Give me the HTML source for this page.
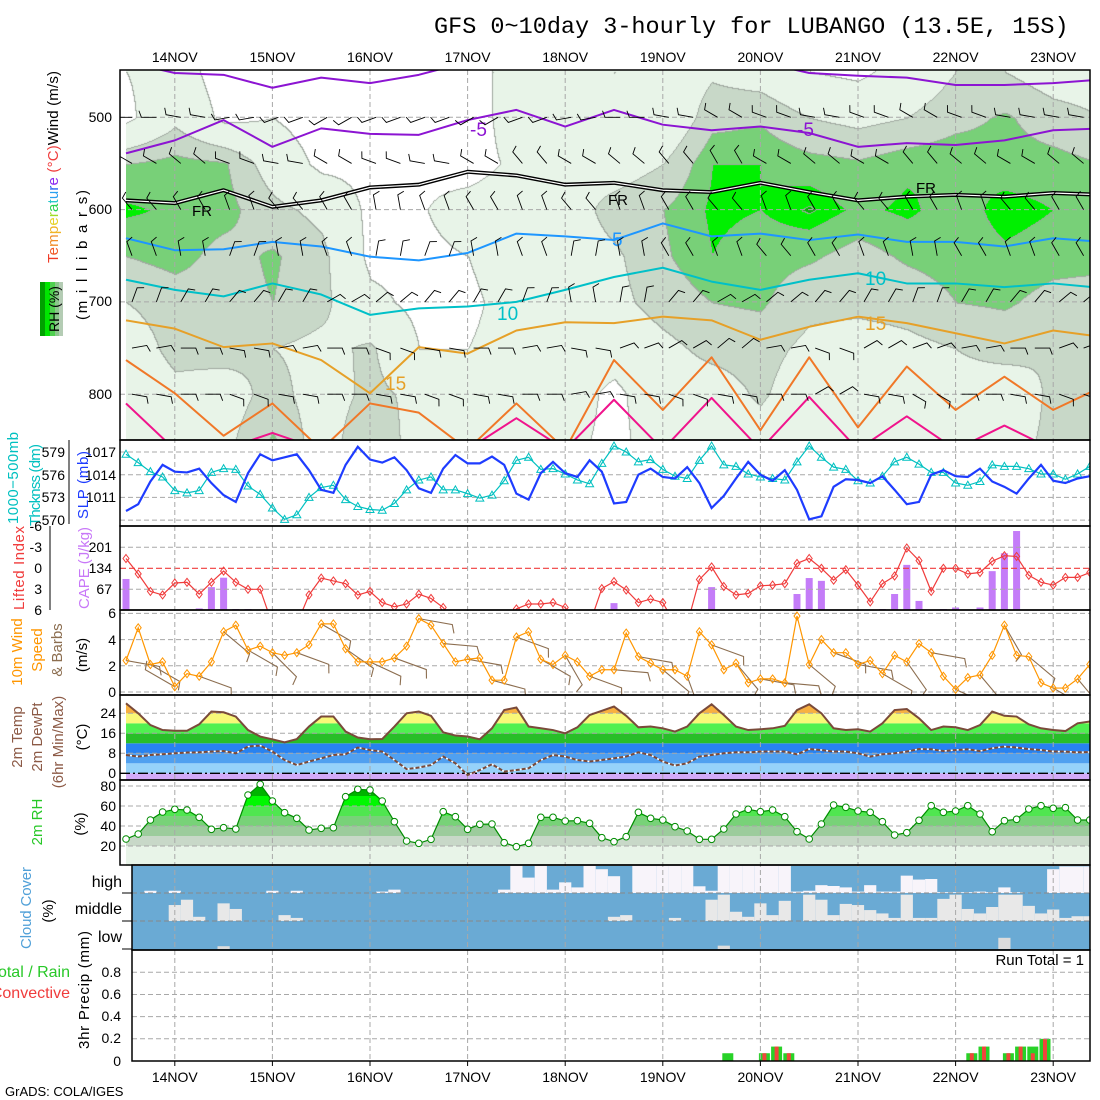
<!DOCTYPE html>
<html><head><meta charset="utf-8">
<title>GFS meteogram LUBANGO</title>
<style>
html,body{margin:0;padding:0;background:#fff}
body{width:1100px;height:1100px;overflow:hidden;position:relative}
#rhcanvas{position:absolute;left:126px;top:70px}
#chart{position:absolute;left:0;top:0}
text{font-family:"Liberation Sans",sans-serif;font-size:14px;fill:#000}
.mono{font-family:"Liberation Mono",monospace}
.grid{stroke:#a8a8a8;stroke-width:1;stroke-dasharray:5,3;fill:none}
.frame{fill:none;stroke:#000;stroke-width:1.5}
.tk{stroke:#000;stroke-width:1}
</style></head>
<body>
<canvas id="rhcanvas" width="964" height="370"></canvas>
<svg id="chart" width="1100" height="1100" xmlns="http://www.w3.org/2000/svg">
<defs>
<clipPath id="cTop"><rect x="120" y="70" width="970" height="370"/></clipPath>
<clipPath id="cSlp"><rect x="120" y="440" width="970" height="86"/></clipPath>
<clipPath id="cCape"><rect x="120" y="526" width="970" height="84"/></clipPath>
<clipPath id="cWind"><rect x="120" y="610" width="970" height="85"/></clipPath>
<clipPath id="cTemp"><rect x="120" y="695" width="970" height="85"/></clipPath>
<clipPath id="cRh"><rect x="120" y="780" width="970" height="85"/></clipPath>
<clipPath id="cCloud"><rect x="132" y="865" width="958" height="85"/></clipPath>
<clipPath id="cPrec"><rect x="132" y="950" width="958" height="111"/></clipPath>
<clipPath id="cTempArea"><polygon id="tempAreaPoly" points=""/></clipPath>
<clipPath id="cRhArea"><polygon id="rhAreaPoly" points=""/></clipPath>
</defs>

<text class="mono" x="434" y="33" style="font-size:23.5px">GFS 0~10day 3-hourly for LUBANGO (13.5E, 15S)</text>

<rect x="132" y="865" width="958" height="85" fill="#6aaad4"/>

<g id="gFills"></g>

<g id="gGrid">
<line class="grid" x1="120" x2="1090" y1="117.3" y2="117.3"/>
<line class="grid" x1="120" x2="1090" y1="209.6" y2="209.6"/>
<line class="grid" x1="120" x2="1090" y1="301.9" y2="301.9"/>
<line class="grid" x1="120" x2="1090" y1="394.2" y2="394.2"/>
<line class="grid" x1="120" x2="1090" y1="452" y2="452"/>
<line class="grid" x1="120" x2="1090" y1="474.7" y2="474.7"/>
<line class="grid" x1="120" x2="1090" y1="497.4" y2="497.4"/>
<line class="grid" x1="120" x2="1090" y1="520.1" y2="520.1"/>
<line class="grid" x1="120" x2="1090" y1="547.3" y2="547.3"/>
<line class="grid" x1="120" x2="1090" y1="589.3" y2="589.3"/>
<line x1="120" x2="1090" y1="568.3" y2="568.3" stroke="#f03c3c" stroke-width="1.2" stroke-dasharray="6,3"/>
<line class="grid" x1="120" x2="1090" y1="613.4" y2="613.4"/>
<line class="grid" x1="120" x2="1090" y1="639.6" y2="639.6"/>
<line class="grid" x1="120" x2="1090" y1="665.8" y2="665.8"/>
<line class="grid" x1="120" x2="1090" y1="692" y2="692"/>
<line class="grid" x1="120" x2="1090" y1="713.3" y2="713.3"/>
<line class="grid" x1="120" x2="1090" y1="733.3" y2="733.3"/>
<line class="grid" x1="120" x2="1090" y1="753.3" y2="753.3"/>
<line x1="120" x2="1090" y1="773.3" y2="773.3" stroke="#000" stroke-width="1.3" stroke-dasharray="10,3,2,3"/>
<line class="grid" x1="120" x2="1090" y1="786" y2="786"/>
<line class="grid" x1="120" x2="1090" y1="806" y2="806"/>
<line class="grid" x1="120" x2="1090" y1="826" y2="826"/>
<line class="grid" x1="120" x2="1090" y1="846" y2="846"/>
<line class="grid" x1="132" x2="1090" y1="893" y2="893" style="stroke:#888"/>
<line class="grid" x1="132" x2="1090" y1="921" y2="921" style="stroke:#888"/>
<line class="grid" x1="132" x2="1090" y1="972.3" y2="972.3"/>
<line class="grid" x1="132" x2="1090" y1="994.5" y2="994.5"/>
<line class="grid" x1="132" x2="1090" y1="1016.6" y2="1016.6"/>
<line class="grid" x1="132" x2="1090" y1="1038.8" y2="1038.8"/>
</g>

<g id="gLines"></g>

<g id="gFrames">
<rect class="frame" x="120" y="70" width="970" height="370"/>
<rect class="frame" x="120" y="440" width="970" height="86"/>
<rect class="frame" x="120" y="526" width="970" height="84"/>
<rect class="frame" x="120" y="610" width="970" height="85"/>
<rect class="frame" x="120" y="695" width="970" height="85"/>
<rect class="frame" x="120" y="780" width="970" height="85"/>
<rect class="frame" x="132" y="865" width="958" height="85"/>
<rect class="frame" x="132" y="950" width="958" height="111"/>
<line class="tk" x1="69" x2="69" y1="440" y2="524"/>
<line class="tk" x1="50" x2="50" y1="526" y2="610"/>
</g>

<g id="gText">
<text x="112" y="122" text-anchor="end">500</text>
<text x="112" y="214" text-anchor="end">600</text>
<text x="112" y="306" text-anchor="end">700</text>
<text x="112" y="399" text-anchor="end">800</text>
<text transform="translate(87,255) rotate(-90)" text-anchor="middle" textLength="130" style="font-size:15px">(m i l l i b a r s)</text>
<text transform="translate(58,263) rotate(-90)" textLength="192" style="font-size:15px"><tspan fill="#f03c28">T</tspan><tspan fill="#f05a28">e</tspan><tspan fill="#f08c28">m</tspan><tspan fill="#f0b428">p</tspan><tspan fill="#e6d228">e</tspan><tspan fill="#a0dc28">r</tspan><tspan fill="#28d250">a</tspan><tspan fill="#28c8c8">t</tspan><tspan fill="#28a0f0">u</tspan><tspan fill="#2864f0">r</tspan><tspan fill="#8c28f0">e</tspan><tspan fill="#f03c3c"> (°C)</tspan>Wind (m/s)</text>
<g>
<rect x="40" y="282" width="5" height="54" fill="#00a000"/>
<rect x="45" y="282" width="5" height="54" fill="#00e600"/>
<rect x="50" y="282" width="5" height="54" fill="#50d050"/>
<rect x="55" y="282" width="4" height="54" fill="#8cc88c"/>
<rect x="59" y="282" width="4" height="54" fill="#b4ccb4"/>
<text transform="translate(59,309) rotate(-90)" text-anchor="middle">RH (%)</text>
</g>

<text x="65" y="457" text-anchor="end">579</text>
<text x="65" y="480" text-anchor="end">576</text>
<text x="65" y="502" text-anchor="end">573</text>
<text x="65" y="525" text-anchor="end">570</text>
<text x="116" y="457" text-anchor="end">1017</text>
<text x="116" y="480" text-anchor="end">1014</text>
<text x="116" y="502" text-anchor="end">1011</text>
<text transform="translate(18,478) rotate(-90)" text-anchor="middle" style="fill:#00c0c0;font-size:15px" textLength="92">1000−500mb</text>
<text transform="translate(40,485) rotate(-90)" text-anchor="middle" style="fill:#00c0c0;font-size:15px" textLength="82">Thcknss (dm)</text>
<text transform="translate(88,485) rotate(-90)" text-anchor="middle" style="fill:#1e3cff;font-size:15px" textLength="68">SLP (mb)</text>

<text x="42" y="531" text-anchor="end">-6</text>
<text x="42" y="552" text-anchor="end">-3</text>
<text x="42" y="573" text-anchor="end">0</text>
<text x="42" y="594" text-anchor="end">3</text>
<text x="42" y="615" text-anchor="end">6</text>
<text x="112" y="552" text-anchor="end">201</text>
<text x="112" y="573" text-anchor="end">134</text>
<text x="112" y="594" text-anchor="end">67</text>
<text transform="translate(24,568) rotate(-90)" text-anchor="middle" style="fill:#f03c3c;font-size:15px" textLength="84">Lifted Index</text>
<text transform="translate(89,568) rotate(-90)" text-anchor="middle" style="fill:#c878f8;font-size:15px" textLength="82">CAPE (J/kg)</text>

<text x="116" y="618" text-anchor="end">6</text>
<text x="116" y="645" text-anchor="end">4</text>
<text x="116" y="671" text-anchor="end">2</text>
<text x="116" y="697" text-anchor="end">0</text>
<text transform="translate(22,652) rotate(-90)" text-anchor="middle" style="fill:#ff9600;font-size:15px">10m Wind</text>
<text transform="translate(42,650) rotate(-90)" text-anchor="middle" style="fill:#ff9600;font-size:15px">Speed</text>
<text transform="translate(62,650) rotate(-90)" text-anchor="middle" style="fill:#8c6e50;font-size:15px">&amp; Barbs</text>
<text transform="translate(87,655) rotate(-90)" text-anchor="middle" style="font-size:15px">(m/s)</text>

<text x="116" y="718" text-anchor="end">24</text>
<text x="116" y="738" text-anchor="end">16</text>
<text x="116" y="758" text-anchor="end">8</text>
<text x="116" y="778" text-anchor="end">0</text>
<text transform="translate(22,737) rotate(-90)" text-anchor="middle" style="fill:#8c5a46;font-size:15px">2m Temp</text>
<text transform="translate(42,737) rotate(-90)" text-anchor="middle" style="fill:#8c5a46;font-size:15px">2m DewPt</text>
<text transform="translate(63,742) rotate(-90)" text-anchor="middle" style="fill:#8c5a46;font-size:15px">(6hr Min/Max)</text>
<text transform="translate(87,737) rotate(-90)" text-anchor="middle" style="font-size:15px">(°C)</text>

<text x="116" y="791" text-anchor="end">80</text>
<text x="116" y="811" text-anchor="end">60</text>
<text x="116" y="831" text-anchor="end">40</text>
<text x="116" y="851" text-anchor="end">20</text>
<text transform="translate(42,822) rotate(-90)" text-anchor="middle" style="fill:#28c828;font-size:15px">2m RH</text>
<text transform="translate(85,824) rotate(-90)" text-anchor="middle" style="font-size:15px">(%)</text>

<text x="122" y="887" text-anchor="end" style="font-size:16px">high</text>
<text x="122" y="914" text-anchor="end" style="font-size:16px">middle</text>
<text x="122" y="942" text-anchor="end" style="font-size:16px">low</text>
<line class="tk" x1="122" x2="132" y1="893" y2="893"/>
<line class="tk" x1="122" x2="132" y1="921" y2="921"/>
<line class="tk" x1="122" x2="132" y1="949" y2="949"/>
<text transform="translate(31,908) rotate(-90)" text-anchor="middle" style="fill:#50a0d8;font-size:15px" textLength="82">Cloud Cover</text>
<text transform="translate(53,911) rotate(-90)" text-anchor="middle" style="font-size:15px">(%)</text>

<text x="121" y="977" text-anchor="end">0.8</text>
<text x="121" y="999" text-anchor="end">0.6</text>
<text x="121" y="1021" text-anchor="end">0.4</text>
<text x="121" y="1043" text-anchor="end">0.2</text>
<text x="121" y="1066" text-anchor="end">0</text>
<text x="70" y="977" text-anchor="end" style="fill:#28c828;font-size:16px">Total / Rain</text>
<text x="70" y="998" text-anchor="end" style="fill:#f03c3c;font-size:16px">Convective</text>
<text transform="translate(89,990) rotate(-90)" text-anchor="middle" textLength="118" style="font-size:15px">3hr Precip (mm)</text>
<text x="1084" y="965" text-anchor="end" style="font-size:15px">Run Total = 1</text>
<text x="5" y="1096" style="font-size:13px">GrADS: COLA/IGES</text>
</g>
<g id="gDates"></g>
</svg>

<script>
// ---------- data (3-hourly, 13NOV 12Z .. 23NOV 09Z) ----------
const dayLabels = ['14NOV','15NOV','16NOV','17NOV','18NOV','19NOV','20NOV','21NOV','22NOV','23NOV'];
const slp = [1009.2,1010.1,1013.1,1015.3,1014.4,1014.3,1014.8,1012.9,1011.3,1010.4,
1014.2,1016.7,1015.9,1016.3,1016.7,1014.6,1012.0,1011.6,1015.3,1017.7,
1016.0,1015.6,1016.3,1014.6,1012.2,1011.6,1014.8,1016.6,1015.5,1015.5,
1016.4,1015.3,1011.5,1010.7,1014.2,1015.7,1014.2,1013.7,1015.9,1014.4,
1010.2,1010.4,1014.0,1014.8,1013.7,1013.5,1015.0,1012.9,1009.6,1011.2,
1013.5,1015.7,1014.0,1013.2,1014.6,1012.0,1008.1,1008.5,1012.4,1013.4,
1013.3,1012.9,1013.8,1012.0,1010.1,1010.4,1014.0,1014.6,1013.8,1013.7,
1014.8,1013.1,1012.4,1011.5,1013.5,1015.3,1013.2,1012.9,1013.5,1013.8];
const thick = [578.7,577.6,576.4,575.7,573.9,573.6,573.9,576.3,576.8,576.7,
574.5,573.4,571.6,570.1,570.7,573.0,574.3,574.6,572.7,571.8,
571.4,571.3,572.2,574.0,575.3,575.7,574.0,574.0,573.5,572.9,
573.3,575.2,577.9,578.3,576.7,576.8,576.1,575.3,574.8,577.5,
579.8,579.0,577.7,578.0,576.7,575.8,575.5,577.9,579.8,577.3,
577.1,576.1,575.7,575.5,575.3,577.7,579.8,578.3,577.0,576.7,
575.2,574.9,575.8,577.7,578.3,577.4,576.3,576.3,574.9,574.6,
575.1,577.3,577.1,577.1,576.8,576.1,576.1,575.4,576.1,577.1];
const liftedIndex = [-1.4,0.8,3.3,3.8,2.1,2.0,3.7,2.0,0.4,2.0,
3.0,3.0,8,8,8,3.8,1.4,1.8,2.2,3.8,
3.3,4.9,5.5,5.1,3.7,4.3,5.6,8,8,8,
8,8,5.8,5.1,5.1,4.9,5.6,8,8,2.9,
1.9,3.1,4.9,4.4,4.9,8,8,1.6,-0.2,2.6,
3.8,3.6,2.5,2.4,2.2,-0.7,-1.4,0,1.7,0.2,
2.4,4.8,2.2,1.1,-2.9,-1.1,3.3,0,0,0.8,
0.6,-1.0,-1.8,-1.7,1.0,2.0,2.4,1.3,1.3,0.6];
const cape = [99,0,0,0,0,0,5,73,103,3,
3,0,0,0,0,0,0,0,0,0,
0,0,0,0,0,0,0,0,0,0,
0,0,0,0,0,0,0,0,0,0,
22,0,0,0,0,0,0,0,73,0,
0,0,0,0,0,51,102,93,0,0,
0,0,3,51,144,29,0,3,8,0,
8,124,181,252,0,0,0,0,0,0];
const windSpeed = [2.4,4.9,2.1,2.3,0.4,1.4,1.2,2.3,4.6,5.1,
3.2,3.5,3.0,2.8,3.0,3.6,5.2,5.2,3.3,2.3,
2.3,2.3,2.6,3.5,5.6,5.1,3.7,2.3,2.5,2.6,
0.9,0.9,4.2,4.6,2.5,2.1,2.8,2.3,1.2,1.7,
1.7,4.5,2.7,2.2,1.7,1.7,1.2,4.6,3.6,1.7,
2.2,0.7,1.0,1.0,0.7,5.8,2.1,4.0,3.0,3.0,
2.1,2.4,1.4,2.8,2.3,3.7,3.0,1.2,0.2,1.1,
1.3,2.8,5.1,2.8,2.7,0.7,0.3,0.3,1.0,2.1];
const windDir10 = [100,120,300,110,130,120,135,110,120,125,115,110,100,95,100,105,110,120,150,110,
95,100,130,160,110,140,100,95,130,110,100,120,145,100,115,140,150,130,120,140];
const temp2m = [28,24,19.3,17.3,17,17,19.6,24.7,24.4,22.7,
17.3,14.7,13.6,12.4,13.7,18.7,22.7,22.7,16.7,14.3,
13.6,13.7,18.7,24,24.7,23,16.4,15.1,14.7,13.6,
18,25.3,26.3,18.7,18,17.3,16,18.4,23.3,25,
26.7,23,18.4,18.7,18,16.7,18.7,24,27.6,23.3,
18.7,17.3,17.6,18,19,25.3,27.6,24,18,17.3,
17.6,16.7,20,25.3,25.7,22,17.3,18.7,18.4,17.3,
19.3,24.7,23,22.7,19.6,18,17.3,16.9,20,20.7];
const dewPt2m = [7.3,6.7,7.3,7.6,8,8.3,8.4,8.7,8.9,8,
10.7,11.1,8.7,5.3,3.3,4.7,6,7.3,7.6,10.3,
9.3,8.7,5.3,1.7,2.3,3.3,6.7,4,-0.7,1.3,
3.6,0.7,1.3,2,5.3,7.3,6.7,5.3,4.7,5.3,
6,6.7,8.4,7.3,4.7,3.1,4,6.7,7.3,8,
8.4,8.4,8.7,8.7,8.7,7.6,9.7,9.3,8.7,8.7,
8,6.7,7.6,8,8.7,9.7,9.6,8.9,9.3,9.6,
8.9,10,10.7,10.3,9.7,9.3,8.7,8.7,8.4,8.5];
const rh2m = [27,32,46,54,56.7,56,48.7,36.7,38.3,37,
71,81.7,65,53.3,47.7,36,37.7,38.3,69.3,76.7,
76,65,44.3,25,22.7,26.7,54.3,49.3,36.7,41.7,
42,23.3,19.3,22.7,48.7,48.7,45,45.3,42.7,28.3,
24.3,29.3,53.7,47.7,46,39.3,35,26.7,26.7,37,
52,56.7,54.3,56,49.3,34.3,27,42,61,58.7,
55,53.7,44.3,31,33.3,45.7,60.3,53.7,55,60.3,
52,34.3,45.3,46.7,57,60.3,57.7,58.3,46,46];
const cloudHigh = [0,0,8,0,8,0,0,0,0,0, 0,0,8,0,8,0,0,0,0,0, 0,5,12,0,0,0,0,0,0,0,
0,12,100,55,100,12,38,20,100,85, 60,0,100,100,100,100,100,24,8,100,
100,100,100,100,100,5,8,28,25,20, 5,28,5,5,62,48,50,3,3,3, 5,3,20,3,0,0,85,95,95,95];
const cloudMid = [0,0,0,0,57,76,15,0,63,43, 0,0,0,21,11,0,0,0,0,0, 0,0,0,0,0,0,0,0,0,0,
0,0,0,0,0,0,0,0,0,0, 15,21,0,0,0,11,0,0,76,94,
33,15,63,21,72,0,94,76,21,61, 57,39,27,11,94,11,11,79,94,43, 27,50,94,94,54,27,41,11,17,17];
const cloudLow = [0,0,0,0,0,0,0,0,10,0, 0,0,0,0,0,0,0,0,0,0, 0,0,0,0,0,0,0,0,0,0,
0,0,0,0,0,0,0,0,0,0, 0,0,0,0,0,0,0,0,0,12,
0,0,0,0,0,0,0,0,0,0, 0,0,0,0,0,0,0,0,0,0, 0,0,40,0,0,0,0,0,0,0];
const precipIdx = [49,52,53,54,69,70,72,73,74,75];
const precipTotal = [0.07,0.07,0.13,0.07,0.07,0.13,0.07,0.13,0.13,0.2];
const precipConv = [0,0.07,0.13,0.07,0.07,0.13,0.07,0.13,0.07,0.2];

// upper-air RH (%) 12-hourly columns, levels 450..850 mb
const rhLevels = [450,500,550,600,650,700,750,800,850];
const rh450 = [40,50,30,30,25,20,25,30,50,50,40,50,62,55,40,35,50,65,65,55,55];
const rh500 = [35,60,35,40,30,30,25,25,55,55,40,45,75,78,65,60,65,75,82,72,65];
const rh550 = [80,85,82,55,35,35,35,30,45,60,55,65,90,90,85,82,88,90,85,85,80];
const rh600 = [92,88,85,70,60,35,38,50,55,55,72,80,92,90,96,88,92,85,94,90,88];
const rh650 = [80,85,75,82,70,35,35,40,55,55,62,78,90,85,82,75,82,85,88,85,85];
const rh700 = [65,72,75,80,70,45,35,35,50,50,60,72,80,82,70,70,72,80,82,75,72];
const rh750 = [55,70,72,65,60,68,40,40,50,45,50,60,70,72,60,55,60,65,70,65,65];
const rh800 = [50,60,55,72,55,70,60,50,45,50,35,55,55,68,50,45,55,60,55,68,70];
const rh850 = [45,55,60,82,55,80,55,45,50,45,35,50,60,55,40,40,50,55,60,68,70];
const rhField = [rh450,rh500,rh550,rh600,rh650,rh700,rh750,rh800,rh850];

// isotherm pressure (mb) per 12-hourly column
const isoM10 = [440,452,454,468,457,463,454,440,440,440,440,440,440,440,452,455,457,465,465,463,459];
const isoM5 = [539,525,503,532,512,518,519,503,492,510,492,508,514,510,517,532,528,530,525,514,512];
const iso0 = [590,593,579,597,590,576,573,559,563,573,571,579,581,571,581,590,586,584,586,582,584];
const iso5 = [631,644,643,635,640,651,655,647,626,629,633,615,629,626,633,627,635,635,640,631,635];
const iso10 = [676,687,694,680,692,714,707,705,700,687,673,663,678,687,676,669,680,680,684,680,685];
const iso15 = [720,729,749,745,763,799,749,756,731,722,723,716,720,741,727,716,723,734,745,731,738];
const iso20 = [763,799,845,810,860,810,820,860,810,860,763,817,760,839,760,836,770,817,781,817,792];
const iso25 = [810,860,860,842,860,860,860,860,826,860,806,860,804,860,803,860,824,860,834,860,860];

// upper-air wind direction (deg) per 12h column at levels
const barbLevels = [500,550,600,650,700,750,800];
const barb500 = [270,280,260,250,240,250,250,240,250,260,270,280,300,290,280,290,300,290,280,280];
const barb550 = [300,310,290,280,300,290,280,300,320,300,310,320,330,300,310,300,320,310,300,310];
const barb600 = [320,330,340,320,330,350,340,330,340,320,340,330,320,340,330,320,330,340,320,330];
const barb650 = [340,350,20,350,340,10,20,350,340,10,350,330,340,320,330,340,350,330,340,330];
const barb700 = [20,30,40,30,60,50,40,30,20,350,10,40,60,50,40,30,20,30,40,50];
const barb750 = [80,90,100,80,90,110,100,90,80,100,70,60,50,80,110,60,70,80,90,70];
const barb800 = [100,90,110,100,90,100,110,100,90,80,100,110,100,90,60,100,120,90,100,110];
const barbDirs = [barb500,barb550,barb600,barb650,barb700,barb750,barb800];

// ---------- scales ----------
const X = i => 126 + i * 12.2;
const XC = k => 126 + k * 48.8;
const yP = p => 117.3 + (p - 500) * 0.923;
const ySlp = v => 452 + (1017 - v) * 7.567;
const yTh = v => 452 + (579 - v) * 7.567;
const yLI = v => 568.3 + v * 7;
const yCape = v => 610 - v * 0.3134;
const yW = v => 692 - v * 13.1;
const yT = v => 773.3 - v * 2.5;
const yRH = v => 866 - v;
const yPr = v => 1061 - v * 110.9;

const NS = 'http://www.w3.org/2000/svg';
function mk(tag, attrs, parent) {
  const e = document.createElementNS(NS, tag);
  for (const k in attrs) e.setAttribute(k, attrs[k]);
  parent.appendChild(e);
  return e;
}
const gFills = document.getElementById('gFills');
const gGrid = document.getElementById('gGrid');
const gLines = document.getElementById('gLines');
const gDates = document.getElementById('gDates');

// ---------- RH canvas field ----------
(function(){
  const cv = document.getElementById('rhcanvas');
  const ctx = cv.getContext('2d');
  const W = cv.width, H = cv.height;
  const img = ctx.createImageData(W, H);
  const cls = new Uint8Array(W*H);
  const cols = [[255,255,255],[232,244,232],[200,216,200],[120,208,120],[0,240,0],[0,184,0]];
  const nc = rhField[0].length;
  for (let py=0; py<H; py++){
    const yy = 70 + py;
    const p = 500 + (yy - 117.3)/0.923;
    let r = (p - 450)/50; r = Math.max(0, Math.min(8, r));
    const r0 = Math.min(7, Math.floor(r)), fr = r - r0;
    for (let px=0; px<W; px++){
      let c = px/48.8; c = Math.max(0, Math.min(nc-1, c));
      const c0 = Math.min(nc-2, Math.floor(c)), fc = c - c0;
      const v = (rhField[r0][c0]*(1-fc)+rhField[r0][c0+1]*fc)*(1-fr) + (rhField[r0+1][c0]*(1-fc)+rhField[r0+1][c0+1]*fc)*fr;
      let k = v<40?0: v<65?1: v<80?2: v<90?3: v<95?4:5;
      cls[py*W+px] = k;
    }
  }
  for (let py=0; py<H; py++) for (let px=0; px<W; px++){
    const k = cls[py*W+px];
    let c = cols[k];
    if ((px>0 && cls[py*W+px-1]!==k) || (py>0 && cls[(py-1)*W+px]!==k)) c=[160,168,160];
    const o = (py*W+px)*4;
    img.data[o]=c[0]; img.data[o+1]=c[1]; img.data[o+2]=c[2]; img.data[o+3]=255;
  }
  ctx.putImageData(img,0,0);
})();

// ---------- vertical day grid + date labels ----------
dayLabels.forEach((lab, d) => {
  const x = X(4 + 8*d);
  const ln = mk('line', {x1:x, x2:x, y1:70, y2:1061, class:'grid'}, gGrid);
  
  
  const t1 = mk('text', {x:x, y:62, 'text-anchor':'middle'}, gDates);
  t1.textContent = lab;
  
  
  const t2 = mk('text', {x:x, y:1082, 'text-anchor':'middle'}, gDates);
  t2.textContent = lab;
  
  
  const tk = mk('line', {x1:x, x2:x, y1:1061, y2:1066, class:'tk'}, gDates);
  
  
});

// ---------- temperature fill bands ----------
const tPts = temp2m.map((v,i)=>X(i)+','+yT(v)).join(' ');
document.getElementById('tempAreaPoly').setAttribute('points', tPts + ' ' + X(79) + ',781 ' + X(0) + ',781');
const tempBands = [[-10,0,'#d2aaf8'],[0,4,'#96d2fa'],[4,8,'#50a0f0'],[8,12,'#2882f0'],[12,16,'#28be28'],[16,20,'#50f050'],[20,24,'#f8f878'],[24,40,'#f8b040']];
const gTB = mk('g', {'clip-path':'url(#cTempArea)'}, gFills);


tempBands.forEach(b => {
  const y1 = Math.max(695, yT(b[1])), y2 = Math.min(780, yT(b[0]));
  const r = mk('rect', {x:126, y:y1, width:964, height:y2-y1, fill:b[2]}, gTB);
  
  
});

// ---------- RH 2m fill bands ----------
const rPts = rh2m.map((v,i)=>X(i)+','+yRH(v)).join(' ');
document.getElementById('rhAreaPoly').setAttribute('points', rPts + ' ' + X(79) + ',866 ' + X(0) + ',866');
const rhBands = [[0,20,'#e8f4e8'],[20,30,'#c8d8c8'],[30,40,'#9ccc9c'],[40,50,'#78d278'],[50,60,'#50e650'],[60,70,'#00f800'],[70,80,'#00b400'],[80,100,'#009000']];
const gRB = mk('g', {'clip-path':'url(#cRhArea)'}, gFills);


rhBands.forEach(b => {
  const y1 = Math.max(780, yRH(b[1])), y2 = Math.min(866, yRH(b[0]));
  const r = mk('rect', {x:126, y:y1, width:964, height:y2-y1, fill:b[2]}, gRB);
  
  
});

// ---------- cloud cover ----------
const gCl = mk('g', {'clip-path':'url(#cCloud)'}, gFills);


[[cloudHigh,893,'#f8f4fa','high'],[cloudMid,921,'#e8e8e8','mid'],[cloudLow,949,'#dcdcdc','low']].forEach(L => {
  L[0].forEach((f,i) => {
    if (f<=0) return;
    const h = f/100*28;
    const r = mk('rect', {x:X(i)-6.1, y:L[1]-h, width:12.2, height:h, fill:L[2]}, gCl);
    
    
  });
});

// ---------- CAPE bars ----------
const gCape = mk('g', {'clip-path':'url(#cCape)'}, gFills);


cape.forEach((v,i) => {
  if (v<=0) return;
  const r = mk('rect', {x:X(i)-3.5, y:yCape(v), width:7, height:610-yCape(v), fill:'#c47cf8'}, gCape);
  
  
});

// ---------- precip bars ----------
const gPr = mk('g', {'clip-path':'url(#cPrec)'}, gFills);


precipIdx.forEach((idx,j) => {
  const cx = X(idx) + 4;
  const r = mk('rect', {x:cx-5.5, y:yPr(precipTotal[j]), width:11, height:1061-yPr(precipTotal[j]), fill:'#28d228'}, gPr);
  
  
  if (precipConv[j]>0){
    const c = mk('rect', {x:cx-2, y:yPr(precipConv[j]), width:4, height:1061-yPr(precipConv[j]), fill:'#f0463c'}, gPr);
    
    
  }
});

// ---------- upper panel isotherms ----------
const gIso = mk('g', {'clip-path':'url(#cTop)'}, gLines);


function isoLine(arr, color, w, name){
  const pts = arr.map((p,k)=>XC(k)+','+yP(p)).join(' ');
  const pl = mk('polyline', {points:pts, fill:'none', stroke:color, 'stroke-width':w, 'stroke-linejoin':'round'}, gIso);
  
  
}
isoLine(isoM10, '#8c14d2', 2, 'isotherm-minus10');
isoLine(isoM5, '#8c14d2', 2, 'isotherm-minus5');
isoLine(iso0, '#000', 4, 'isotherm-freezing-outline');
isoLine(iso0, '#fff', 1.2, 'isotherm-freezing');
isoLine(iso5, '#1e96ff', 2, 'isotherm-5');
isoLine(iso10, '#00c0c8', 2, 'isotherm-10');
isoLine(iso15, '#e6a028', 2, 'isotherm-15');
isoLine(iso20, '#f07828', 2, 'isotherm-20');
isoLine(iso25, '#f0148c', 2, 'isotherm-25');

// isotherm labels
const isoLabels = [['-5',470,136,'#8c14d2'],['-5',797,136,'#8c14d2'],['FR',192,216,'#000'],['FR',608,205,'#000'],['FR',916,193,'#000'],['5',612,246,'#1e96ff'],['10',497,320,'#00c0c8'],['10',865,285,'#00c0c8'],['15',385,390,'#e6a028'],['15',865,330,'#e6a028']];
isoLabels.forEach(L => {
  const t = mk('text', {x:L[1], y:L[2], style:'fill:'+L[3]+';font-size:'+(L[0]==='FR'?'15px':'19px')}, gIso);
  t.textContent = L[0];
  
  
});

// ---------- upper-air barbs ----------
const gB = mk('g', {'clip-path':'url(#cTop)'}, gLines);


barbLevels.forEach((lev, r) => {
  for (let j=0; j<40; j++){
    const dir = barbDirs[r][Math.floor(j/2)] * Math.PI/180;
    const x0 = 132 + j*24.4, y0 = yP(lev);
    const x1 = x0 + Math.sin(dir)*15, y1 = y0 - Math.cos(dir)*15;
    const td = dir + Math.PI/2.6;
    const x2 = x1 + Math.sin(td)*7, y2 = y1 - Math.cos(td)*7;
    const b = mk('polyline', {points:x0+','+y0+' '+x1+','+y1+' '+x2+','+y2, fill:'none', stroke:'#000', 'stroke-width':0.9}, gB);
    
    
  }
});

// ---------- SLP & thickness ----------
const gS = mk('g', {'clip-path':'url(#cSlp)'}, gLines);


const thLine = mk('polyline', {points:thick.map((v,i)=>X(i)+','+yTh(v)).join(' '), fill:'none', stroke:'#00c0c0', 'stroke-width':1.2}, gS);


thick.forEach((v,i) => {
  const x=X(i), y=yTh(v);
  const m = mk('polygon', {points:(x-4)+','+(y+3)+' '+(x+4)+','+(y+3)+' '+x+','+(y-4), fill:'none', stroke:'#00c0c0', 'stroke-width':1}, gS);
  
  
});
const slpLine = mk('polyline', {points:slp.map((v,i)=>X(i)+','+ySlp(v)).join(' '), fill:'none', stroke:'#1e3cff', 'stroke-width':2.2}, gS);



// ---------- Lifted index ----------
const gL = mk('g', {'clip-path':'url(#cCape)'}, gLines);


const liLine = mk('polyline', {points:liftedIndex.map((v,i)=>X(i)+','+yLI(v)).join(' '), fill:'none', stroke:'#f03c3c', 'stroke-width':1.2}, gL);


liftedIndex.forEach((v,i) => {
  const x=X(i), y=yLI(v);
  const m = mk('polygon', {points:x+','+(y-4)+' '+(x+3)+','+y+' '+x+','+(y+4)+' '+(x-3)+','+y, fill:'none', stroke:'#f03c3c', 'stroke-width':1}, gL);
  
  
});

// ---------- 10m wind ----------
const gWd = mk('g', {'clip-path':'url(#cWind)'}, gLines);


windDir10.forEach((d,j) => {
  const i = j*2;
  const dir = d*Math.PI/180;
  const x0 = X(i), y0 = yW(windSpeed[i]);
  const x1 = x0 + Math.sin(dir)*34, y1 = y0 - Math.cos(dir)*34;
  const td = dir + Math.PI/2.6;
  const x2 = x1 + Math.sin(td)*9, y2 = y1 - Math.cos(td)*9;
  const b = mk('polyline', {points:x0+','+y0+' '+x1+','+y1+' '+x2+','+y2, fill:'none', stroke:'#8c6e50', 'stroke-width':1.1}, gWd);
  
  
});
const wLine = mk('polyline', {points:windSpeed.map((v,i)=>X(i)+','+yW(v)).join(' '), fill:'none', stroke:'#ff9600', 'stroke-width':1.2}, gWd);


windSpeed.forEach((v,i) => {
  const x=X(i), y=yW(v);
  const m = mk('polygon', {points:x+','+(y-4)+' '+(x+3)+','+y+' '+x+','+(y+4)+' '+(x-3)+','+y, fill:'none', stroke:'#ff9600', 'stroke-width':1}, gWd);
  
  
});

// ---------- temperature / dewpoint lines ----------
const gT = mk('g', {'clip-path':'url(#cTemp)'}, gLines);


const tdPts = dewPt2m.map((v,i)=>X(i)+','+yT(v)).join(' ');
const tdU = mk('polyline', {points:tdPts, fill:'none', stroke:'#fff', 'stroke-width':1.5}, gT);


const tdL = mk('polyline', {points:tdPts, fill:'none', stroke:'#7a4a3a', 'stroke-width':2, 'stroke-dasharray':'4,2'}, gT);


const tL = mk('polyline', {points:tPts, fill:'none', stroke:'#7a4a3a', 'stroke-width':2}, gT);



// ---------- RH 2m line ----------
const gR = mk('g', {'clip-path':'url(#cRh)'}, gLines);


const rL = mk('polyline', {points:rPts, fill:'none', stroke:'#008c00', 'stroke-width':1.2}, gR);


rh2m.forEach((v,i) => {
  const c = mk('circle', {cx:X(i), cy:yRH(v), r:3.3, fill:'#fff', stroke:'#008c00', 'stroke-width':1}, gR);
  
  
});
</script>
</body></html>
